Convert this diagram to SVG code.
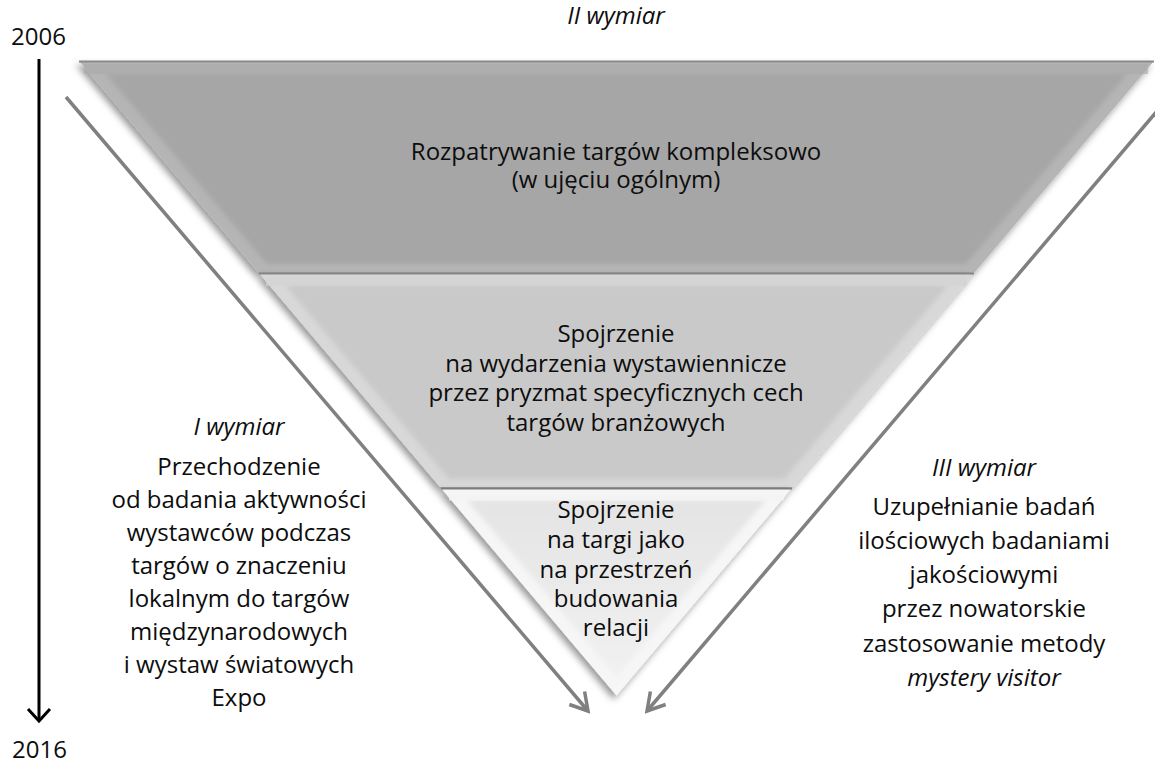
<svg xmlns="http://www.w3.org/2000/svg" width="1155" height="762" viewBox="0 0 1155 762">
<style>
text{font-family:"Open Sans","Liberation Sans",sans-serif;font-size:24px;fill:#0d0d0d;text-anchor:middle}
.it{font-style:italic}
.yr{text-anchor:start}
.gl{fill:none;stroke:#808080;stroke-width:3.5}
.bl{fill:none;stroke:#000;stroke-width:3}
</style>
<defs>
<filter id="sh" x="-10%" y="-10%" width="120%" height="130%">
<feGaussianBlur in="SourceAlpha" stdDeviation="3.5"/>
<feOffset dx="-3" dy="4" result="b"/>
<feFlood flood-color="#000" flood-opacity="0.4"/>
<feComposite in2="b" operator="in"/>
<feMerge><feMergeNode/><feMergeNode in="SourceGraphic"/></feMerge>
</filter>
<filter id="soft" x="-5%" y="-5%" width="110%" height="110%">
<feGaussianBlur stdDeviation="2.5"/>
</filter>
<linearGradient id="g3" x1="0" y1="0" x2="0" y2="1">
<stop offset="0" stop-color="#e4e4e4"/>
<stop offset="1" stop-color="#f1f1f1"/>
</linearGradient>
<marker id="ga" markerWidth="24" markerHeight="24" refX="0" refY="0" viewBox="-20 -12 24 24" orient="auto" markerUnits="userSpaceOnUse">
<path d="M-17,-10 L0,0 L-17,10" fill="none" stroke="#808080" stroke-width="3.5" stroke-linejoin="miter"/>
</marker>
<marker id="ba" markerWidth="24" markerHeight="28" refX="0" refY="0" viewBox="-16 -14 20 28" orient="auto" markerUnits="userSpaceOnUse">
<path d="M-12,-11 L0,0 L-12,11" fill="none" stroke="#000" stroke-width="3"/>
</marker>
</defs>
<rect width="1155" height="762" fill="#fff"/>

<g id="connectors">
<path class="bl" d="M39,59 L39,721" marker-end="url(#ba)"/>
<path class="gl" d="M66,97 L588,711" marker-end="url(#ga)"/>
<path class="gl" d="M1158,110 L647,711" marker-end="url(#ga)"/>
</g>

<g id="band1">
<polygon points="79,61 1154,61 975,272 258,272" fill="#b5b5b5" filter="url(#sh)"/>
<polygon points="105,73 1128,73 966,264 267,264" fill="#a6a6a6" filter="url(#soft)"/>
<line x1="79" y1="61.5" x2="1154" y2="61.5" stroke="#8a8a8a" stroke-width="2"/>
<line x1="84" y1="69" x2="1148" y2="69" stroke="#ababab" stroke-width="10" opacity="0.6"/>
<text x="616" y="160">Rozpatrywanie targów kompleksowo</text>
<text x="616" y="188">(w ujęciu ogólnym)</text>
</g>

<g id="band2">
<polygon points="259,273 974,273 793,487 440,487" fill="#d8d8d8" filter="url(#sh)"/>
<polygon points="285,285 948,285 784,479 449,479" fill="#c9c9c9" filter="url(#soft)"/>
<line x1="259" y1="273.5" x2="974" y2="273.5" stroke="#858585" stroke-width="2"/>
<line x1="266" y1="281" x2="967" y2="281" stroke="#d4d4d4" stroke-width="10" opacity="0.7"/>
<text x="616" y="342">Spojrzenie</text>
<text x="616" y="372">na wydarzenia wystawiennicze</text>
<text x="616" y="401">przez pryzmat specyficznych cech</text>
<text x="616" y="431">targów branżowych</text>
</g>

<g id="band3">
<polygon points="441,488 792,488 616.5,695.5" fill="#f6f6f6" filter="url(#sh)"/>
<polygon points="467,500 766,500 616.5,677" fill="url(#g3)" filter="url(#soft)"/>
<line x1="441" y1="488.5" x2="792" y2="488.5" stroke="#7d7d7d" stroke-width="2"/>
<line x1="449" y1="496" x2="784" y2="496" stroke="#f4f4f4" stroke-width="9" opacity="0.8"/>
<text x="616" y="518">Spojrzenie</text>
<text x="616" y="548">na targi jako</text>
<text x="616" y="578">na przestrzeń</text>
<text x="616" y="607">budowania</text>
<text x="616" y="636">relacji</text>
</g>

<g id="title-top">
<text class="it" x="616" y="24">II wymiar</text>
</g>

<g id="left-text">
<text class="it" x="239" y="435">I wymiar</text>
<text x="239" y="475">Przechodzenie</text>
<text x="239" y="508">od badania aktywności</text>
<text x="239" y="541">wystawców podczas</text>
<text x="239" y="574">targów o znaczeniu</text>
<text x="239" y="607">lokalnym do targów</text>
<text x="239" y="640">międzynarodowych</text>
<text x="239" y="673">i wystaw światowych</text>
<text x="239" y="706">Expo</text>
</g>

<g id="right-text">
<text class="it" x="984" y="476">III wymiar</text>
<text x="984" y="515">Uzupełnianie badań</text>
<text x="984" y="549">ilościowych badaniami</text>
<text x="984" y="583">jakościowymi</text>
<text x="984" y="617">przez nowatorskie</text>
<text x="984" y="652">zastosowanie metody</text>
<text class="it" x="984" y="686">mystery visitor</text>
</g>

<g id="years">
<text class="yr" x="11" y="45">2006</text>
<text class="yr" x="12" y="758">2016</text>
</g>
</svg>
